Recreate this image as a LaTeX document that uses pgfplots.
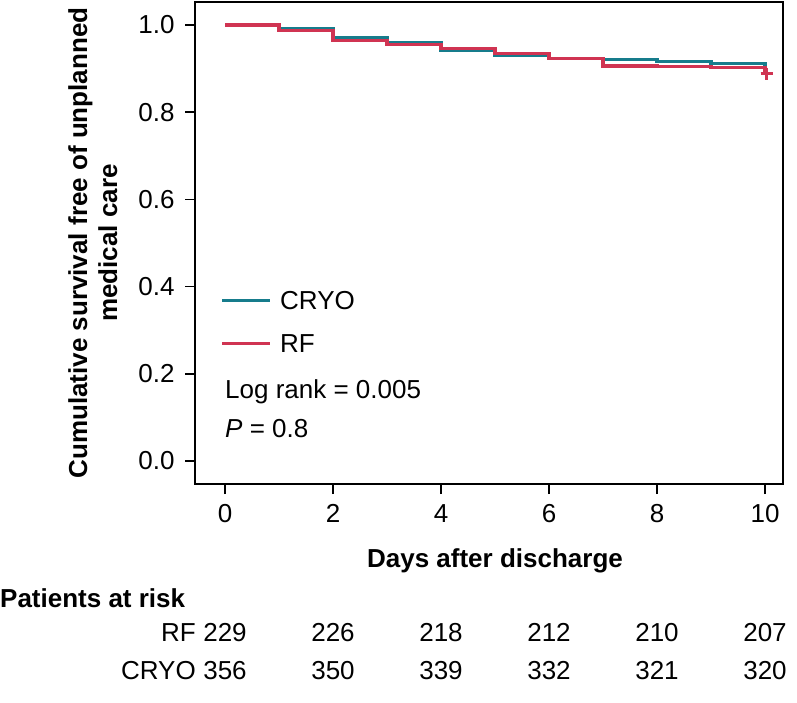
\documentclass[border=0pt]{standalone}
\usepackage{fontspec}
\setmainfont{Liberation Sans}
\usepackage{pgfplots}
\pgfplotsset{compat=1.18}
\definecolor{cryo}{RGB}{22,124,140}
\definecolor{rf}{RGB}{208,52,82}
\newcommand{\fs}{\fontsize{26}{31}\selectfont}

\begin{document}
\begin{tikzpicture}
\useasboundingbox (0pt,-703pt) rectangle (797pt,0pt);
\begin{axis}[
  at={(195pt,-484pt)}, anchor=south west,
  scale only axis, width=588pt, height=482pt,
  xmin=-0.556, xmax=10.333, ymin=-0.0528, ymax=1.0528,
  xtick={0,2,4,6,8,10}, ytick={0,0.2,0.4,0.6,0.8,1.0},
  yticklabel style={/pgf/number format/fixed, /pgf/number format/fixed zerofill,
    /pgf/number format/precision=1, xshift=-7pt},
  xticklabel style={yshift=-7pt},
  /pgf/number format/assume math mode=true,
  tick label style={font=\fs},
  axis line style={line width=1.5pt},
  tick style={line width=1.5pt, black},
  major tick length=10pt, tick align=outside,
  xtick pos=lower, ytick pos=left,
]
  % CRYO
  \addplot[cryo, line width=3.2pt, const plot] coordinates {
    (0,1.000) (1,0.992) (2,0.971) (3,0.959) (4,0.941) (5,0.930)
    (6,0.924) (7,0.920) (8,0.916) (9,0.911) (10,0.888)};
  \addplot[cryo, only marks, mark=+, mark size=6pt, line width=3pt]
    coordinates {(10.03,0.888)};
  % RF
  \addplot[rf, line width=3.2pt, const plot] coordinates {
    (0,1.000) (1,0.987) (2,0.964) (3,0.955) (4,0.946) (5,0.935)
    (6,0.924) (7,0.906) (8,0.905) (9,0.902) (10,0.888)};
  \addplot[rf, only marks, mark=+, mark size=6pt, line width=3pt]
    coordinates {(10.03,0.888)};
\end{axis}

% legend and statistics
\draw[cryo, line width=3pt] (222pt,-300pt) -- (270pt,-300pt);
\node[anchor=base west, inner sep=0, font=\fs] at (280pt,-309pt) {CRYO};
\draw[rf, line width=3pt] (222pt,-343pt) -- (270pt,-343pt);
\node[anchor=base west, inner sep=0, font=\fs] at (280pt,-352pt) {RF};
\node[anchor=base west, inner sep=0, font=\fs] at (225pt,-398pt) {Log rank = 0.005};
\node[anchor=base west, inner sep=0, font=\fs] at (225pt,-437pt) {\textit{P} = 0.8};

% axis titles
\node[rotate=90, anchor=base, inner sep=0, font=\bfseries\fs] at (87pt,-243pt)
  {Cumulative survival free of unplanned};
\node[rotate=90, anchor=base, inner sep=0, font=\bfseries\fs] at (117pt,-243pt)
  {medical care};
\node[anchor=base, inner sep=0, font=\bfseries\fs] at (495pt,-567pt) {Days after discharge};

% patients at risk
\node[anchor=base west, inner sep=0, font=\bfseries\fs] at (0pt,-607pt) {Patients at risk};
\node[anchor=base east, inner sep=0, font=\fs] at (196pt,-641pt) {RF};
\node[anchor=base east, inner sep=0, font=\fs] at (196pt,-679pt) {CRYO};
\foreach \x/\a/\b in {0/229/356, 2/226/350, 4/218/339, 6/212/332, 8/210/321, 10/207/320} {
  \node[anchor=base, inner sep=0, font=\fs] at ({225pt+54pt*\x},-641pt) {\a};
  \node[anchor=base, inner sep=0, font=\fs] at ({225pt+54pt*\x},-679pt) {\b};
}
\end{tikzpicture}
\end{document}
